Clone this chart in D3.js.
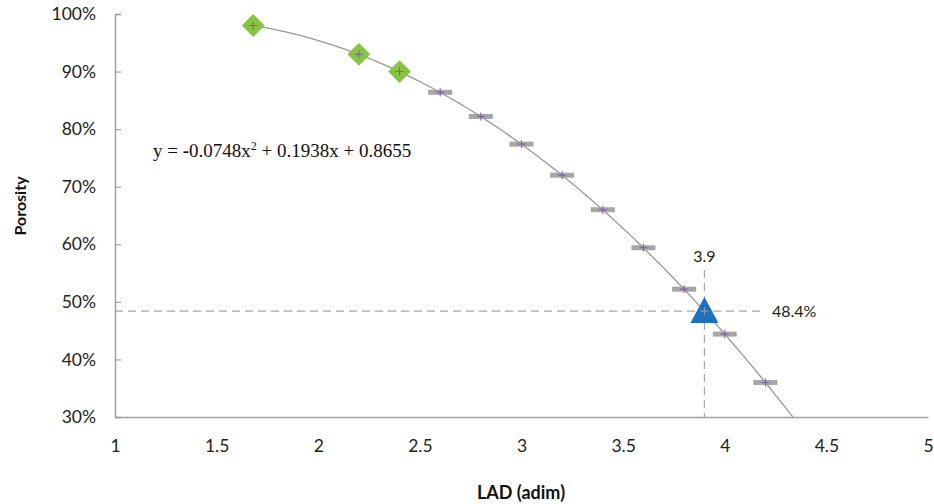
<!DOCTYPE html>
<html><head><meta charset="utf-8">
<script src="https://cdn.jsdelivr.net/npm/d3@7"></script>
<style>body{margin:0;background:#fff}svg{display:block}</style>
</head><body>
<svg id="c" width="934" height="504"></svg>
<script>
// Data
const greenX = [1.68, 2.2, 2.4];
const greenY = [0.980, 0.930, 0.900];
const grayX = [2.6, 2.8, 3.0, 3.2, 3.4, 3.6, 3.8, 4.0, 4.2];
const grayY = [0.864, 0.822, 0.774, 0.720, 0.660, 0.594, 0.522, 0.444, 0.360];
const pointX = [3.9];
const pointY = [0.484];
const trendCoef = [-0.0748, 0.1938, 0.8655]; // displayed polynomial trend line
const xTicks = [1, 1.5, 2, 2.5, 3, 3.5, 4, 4.5, 5];
const yTicks = [0.3, 0.4, 0.5, 0.6, 0.7, 0.8, 0.9, 1.0];

const svg = d3.select("#c");
const L = 115, R = 928, T = 14, B = 417;
const x = d3.scaleLinear().domain([1, 5]).range([L, R]);
const y = d3.scaleLinear().domain([0.3, 1.0]).range([B, T]);
const tickFont = "Lato, 'Open Sans', sans-serif";

// axes
const yAx = svg.append("g").attr("transform", `translate(${L},0)`)
  .call(d3.axisLeft(y).tickValues(yTicks).tickFormat(d3.format(".0%")).tickSize(-6).tickPadding(19));
yAx.select(".domain").attr("stroke", "#a0a0a0").attr("stroke-width", 1.5);
yAx.selectAll(".tick line").attr("stroke", "#a0a0a0").attr("stroke-width", 1.2);
yAx.selectAll("text").attr("font-family", tickFont).attr("font-size", 17.5).attr("fill", "#222");

const xAx = svg.append("g").attr("transform", `translate(0,${B})`)
  .call(d3.axisBottom(x).tickValues(xTicks).tickFormat(d3.format("")).tickSize(0).tickPadding(23));
xAx.select(".domain").attr("stroke", "#a0a0a0").attr("stroke-width", 1.5);
xAx.selectAll("text").attr("font-family", tickFont).attr("font-size", 17.5).attr("fill", "#222");

// axis titles
svg.append("text").attr("x", 521).attr("y", 499).attr("text-anchor", "middle")
  .attr("font-family", tickFont).attr("font-weight", "bold").attr("font-size", 18).attr("fill", "#111")
  .text("LAD (adim)");
svg.append("text").attr("transform", "translate(26,206) rotate(-90)").attr("text-anchor", "middle")
  .attr("font-family", tickFont).attr("font-weight", "bold").attr("font-size", 16).attr("fill", "#111")
  .text("Porosity");

// clip
svg.append("clipPath").attr("id", "plot").append("rect")
  .attr("x", L).attr("y", T - 10).attr("width", R - L).attr("height", B - T + 10);

// dashed guide lines
const px = pointX[0], py = pointY[0];
svg.append("line").attr("x1", L).attr("x2", 763).attr("y1", y(py)).attr("y2", y(py))
  .attr("stroke", "#a6a6a6").attr("stroke-width", 1.2).attr("stroke-dasharray", "8,5");
svg.append("line").attr("x1", x(px)).attr("x2", x(px)).attr("y1", 270).attr("y2", B)
  .attr("stroke", "#a6a6a6").attr("stroke-width", 1.2).attr("stroke-dasharray", "8,5");

// gray dash markers
grayX.forEach((gx, i) => {
  svg.append("rect").attr("x", x(gx) - 12).attr("y", y(grayY[i]) - 2.5)
    .attr("width", 24).attr("height", 5).attr("fill", "#a6a6a6");
});

// trend line
const poly = v => trendCoef[0] * v * v + trendCoef[1] * v + trendCoef[2];
const tx = d3.range(1.68, 4.45, 0.02);
svg.append("path").attr("clip-path", "url(#plot)")
  .datum(tx).attr("fill", "none").attr("stroke", "#999").attr("stroke-width", 1.3)
  .attr("d", d3.line().x(d => x(d)).y(d => y(poly(d))));

// green diamonds
greenX.forEach((gx, i) => {
  svg.append("path").attr("d", d3.symbol().type(d3.symbolSquare).size(260)())
    .attr("transform", `translate(${x(gx)},${y(greenY[i])}) rotate(45)`)
    .attr("fill", "#86c441");
});

// blue triangle
pointX.forEach((bx, i) => {
  const cx = x(bx), cy = y(pointY[i]);
  svg.append("path").attr("d", `M${cx},${cy - 14}L${cx + 14},${cy + 12}L${cx - 14},${cy + 12}Z`)
    .attr("fill", "#1f6fbf");
});

// small cross markers
const allX = greenX.concat(grayX, pointX), allY = greenY.concat(grayY, pointY);
allX.forEach((cx0, i) => {
  const cx = x(cx0), cy = y(allY[i]);
  const col = i >= allX.length - 1 ? "#9aa3b0" : "#7b5fa8";
  svg.append("path").attr("d", `M${cx - 4},${cy}H${cx + 4}M${cx},${cy - 4}V${cy + 4}`)
    .attr("stroke", col).attr("stroke-width", 1);
});

// labels
svg.append("text").attr("x", x(px)).attr("y", 262).attr("text-anchor", "middle")
  .attr("font-family", tickFont).attr("font-size", 16).attr("fill", "#222").text(px);
svg.append("text").attr("x", 772).attr("y", y(py) + 6)
  .attr("font-family", tickFont).attr("font-size", 16).attr("fill", "#222").text(d3.format(".1%")(py));

// equation
const eq = svg.append("text").attr("x", 153).attr("y", 157)
  .attr("font-family", "'Liberation Serif', 'Times New Roman', serif").attr("font-size", 19).attr("fill", "#111");
eq.append("tspan").text("y = ");
eq.append("tspan").attr("font-weight", "bold").text("-");
eq.append("tspan").text(String(trendCoef[0]).replace("-", "") + "x");
eq.append("tspan").attr("font-size", 12).attr("dy", -7).text("2");
eq.append("tspan").attr("dy", 7).text(" + " + trendCoef[1] + "x + " + trendCoef[2]);
</script>
</body></html>
